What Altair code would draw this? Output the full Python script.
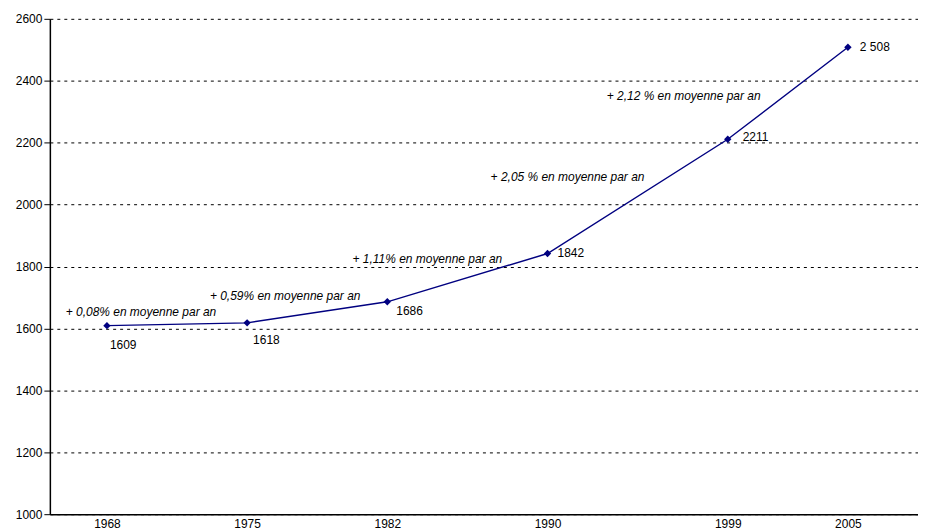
import altair as alt
import pandas as pd

# ---- data ----
years = [1968, 1975, 1982, 1990, 1999, 2005]
population = [1609, 1618, 1686, 1842, 2211, 2508]
point_labels = ["1609", "1618", "1686", "1842", "2211", "2 508"]

ann_text = [
    "+ 0,08% en moyenne par an",
    "+ 0,59% en moyenne par an",
    "+ 1,11% en moyenne par an",
    "+ 2,05 % en moyenne par an",
    "+ 2,12 % en moyenne par an",
]
ann_year = [1969.7, 1976.9, 1984.0, 1991.0, 1996.8]
ann_value = [1653, 1705, 1824, 2088, 2352]

y_ticks = list(range(1000, 2601, 200))

# label offsets (style, in pixels) per year
label_offsets = {1968: (3, 19), 1975: (6, 17), 1982: (9, 9),
                 1990: (10, 0), 1999: (15, -2), 2005: (12, 0)}

df = pd.DataFrame({"year": years, "pop": population, "label": point_labels})
ann = pd.DataFrame({"text": ann_text, "year": ann_year, "value": ann_value})

FONT = "Liberation Sans"
NAVY = "#000080"

x_scale = alt.Scale(domain=[1965.15, 2008.5], nice=False, zero=False)
y_scale = alt.Scale(domain=[1000, 2600], nice=False, zero=False)

x_enc = alt.X("year:Q", scale=x_scale,
              axis=alt.Axis(values=years, format="d", title=None, grid=False,
                            ticks=False, labelPadding=4, domainColor="black",
                            domainWidth=1.5, labelFont=FONT, labelFontSize=12,
                            labelColor="black"))
y_enc = alt.Y("pop:Q", scale=y_scale,
              axis=alt.Axis(values=y_ticks, format="d", title=None, grid=True,
                            gridDash=[3, 4], gridColor="black", gridOpacity=1,
                            gridWidth=1, tickColor="black", tickSize=6,
                            labelPadding=2, domainColor="black", domainWidth=1.5,
                            labelFont=FONT, labelFontSize=12, labelColor="black"))

base = alt.Chart(df)

line = base.mark_line(color=NAVY, strokeWidth=1.4).encode(x=x_enc, y=y_enc)
points = base.mark_point(shape="diamond", filled=True, color=NAVY, size=55,
                         opacity=1).encode(x="year:Q", y="pop:Q")

label_layers = []
for yr, (dx, dy) in label_offsets.items():
    label_layers.append(
        base.transform_filter(alt.datum.year == yr)
        .mark_text(align="left", baseline="middle", dx=dx, dy=dy,
                   font=FONT, fontSize=12, color="black")
        .encode(x="year:Q", y="pop:Q", text="label:N")
    )

annotations = alt.Chart(ann).mark_text(
    align="center", baseline="middle", font=FONT, fontSize=12,
    fontStyle="italic", color="black"
).encode(
    x=alt.X("year:Q", scale=x_scale),
    y=alt.Y("value:Q", scale=y_scale),
    text="text:N",
)

chart = alt.layer(line, points, *label_layers, annotations).properties(
    width=871, height=497,
    padding={"left": 7, "top": 4, "right": 0, "bottom": 0},
    background="white",
).configure_view(stroke=None)

chart.save("out.html", embed_options={"renderer": "svg", "actions": False})
